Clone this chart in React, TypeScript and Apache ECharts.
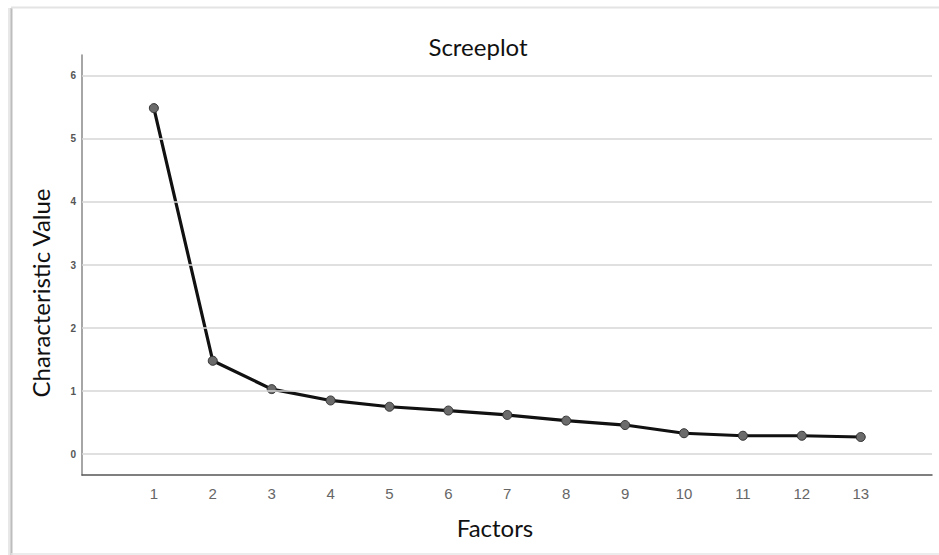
import React, { useEffect, useRef } from "react";
import * as echarts from "echarts";

const factors = [1, 2, 3, 4, 5, 6, 7, 8, 9, 10, 11, 12, 13];
const eigenvalues = [5.49, 1.48, 1.03, 0.85, 0.75, 0.69, 0.62, 0.53, 0.46, 0.33, 0.29, 0.29, 0.27];
const gridValues = [0, 1, 2, 3, 4, 5, 6];

const titleText = "Screeplot";
const xName = "Factors";
const yName = "Characteristic Value";

export default function App() {
  const ref = useRef<HTMLDivElement>(null);
  useEffect(() => {
    document.body.style.margin = "0";
    const chart = echarts.init(ref.current!, null, { renderer: "svg" });
    const pts = factors.map((f, i) => [f, eigenvalues[i]]);
    chart.setOption({
      animation: false,
      backgroundColor: "#ffffff",
      title: {
        text: titleText,
        left: 473,
        top: 29,
        textAlign: "center",
        textStyle: { fontFamily: "Lato", fontSize: 24, fontWeight: "normal", color: "#111" },
      },
      grid: { left: 82, right: 7, top: 55, bottom: 80 },
      xAxis: {
        type: "value",
        min: -0.22,
        max: 14.21,
        splitNumber: 14,
        axisLine: { show: true, onZero: false, lineStyle: { color: "#555", width: 1.5 } },
        axisTick: { show: false },
        splitLine: { show: false },
        axisLabel: {
          showMinLabel: false,
          showMaxLabel: false,
          margin: 11,
          fontFamily: "Liberation Sans",
          fontSize: 15,
          color: "#666",
          formatter: (v: number) => (Number.isInteger(v) && v >= 1 && v <= 13 ? String(v) : ""),
        },
      },
      yAxis: {
        type: "value",
        min: -0.333,
        max: 6.333,
        axisLine: { show: true, onZero: false, lineStyle: { color: "#888", width: 1.5 } },
        axisTick: { show: false },
        splitLine: { show: false },
        axisLabel: {
          showMinLabel: false,
          showMaxLabel: false,
          margin: 6,
          fontFamily: "Liberation Sans",
          fontSize: 10,
          fontWeight: "bold",
          color: "#555",
          formatter: (v: number) => (Number.isInteger(v) ? String(v) : ""),
        },
      },
      graphic: [
        { type: "rect", shape: { x: 8, y: 8, width: 3, height: 547 }, style: { fill: "#e8e8e8" } },
        { type: "line", shape: { x1: 11.5, y1: 8, x2: 11.5, y2: 555 }, style: { stroke: "#bdbdbd", lineWidth: 2 } },
        { type: "line", shape: { x1: 11, y1: 7.5, x2: 939, y2: 7.5 }, style: { stroke: "#e4e4e4", lineWidth: 2 } },
        { type: "line", shape: { x1: 11, y1: 554, x2: 939, y2: 554 }, style: { stroke: "#e6e6e6", lineWidth: 1.5 } },
        {
          type: "text",
          x: 40,
          y: 293,
          rotation: Math.PI / 2,
          style: { text: yName, fontFamily: "Lato", fontSize: 24, fill: "#111", textAlign: "center", textVerticalAlign: "middle" },
        },
        {
          type: "text",
          x: 495,
          y: 527,
          style: { text: xName, fontFamily: "Lato", fontSize: 24, fill: "#111", textAlign: "center", textVerticalAlign: "middle" },
        },
      ],
      series: [
        {
          type: "line",
          data: pts,
          symbol: "none",
          silent: true,
          z: 1,
          lineStyle: { opacity: 0 },
          markLine: {
            silent: true,
            symbol: "none",
            label: { show: false },
            lineStyle: { color: "#d6d6d6", width: 1.5, type: "solid" },
            data: gridValues.map((g) => ({ yAxis: g })),
          },
        },
        {
          type: "line",
          data: pts,
          z: 3,
          symbol: "circle",
          symbolSize: 9,
          lineStyle: { color: "#111", width: 3.2 },
          itemStyle: { color: "#6b6b6b", borderColor: "#333", borderWidth: 1 },
        },
      ],
    });
    return () => chart.dispose();
  }, []);
  return <div ref={ref} style={{ width: 939, height: 555 }} />;
}
